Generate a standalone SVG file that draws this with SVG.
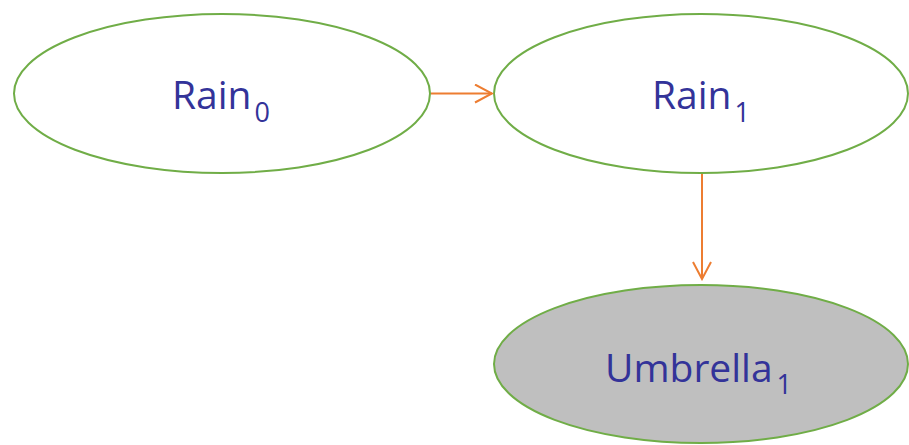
<svg xmlns="http://www.w3.org/2000/svg" width="909" height="445" viewBox="0 0 909 445">
<style>
.node{stroke:#70AD47;stroke-width:2;}
.lbl{font-family:"Open Sans","Liberation Sans",sans-serif;font-size:39px;fill:#333399;}
.sub{font-size:27px;}
.edge{stroke:#ED7D31;stroke-width:2;fill:none;}
</style>
<defs>
<marker id="arr" markerWidth="20" markerHeight="20" refX="18" refY="10" orient="auto" markerUnits="userSpaceOnUse">
<path d="M1,1 L18,10 L1,19" fill="none" stroke="#ED7D31" stroke-width="2"/>
</marker>
</defs>
<g id="rain0">
<ellipse class="node" cx="222" cy="93.5" rx="208" ry="79.5" fill="#FFFFFF"/>
<text class="lbl" x="172" y="109">Rain<tspan class="sub" dx="3" dy="13">0</tspan></text>
</g>
<g id="rain1">
<ellipse class="node" cx="701" cy="93.5" rx="207" ry="79.5" fill="#FFFFFF"/>
<text class="lbl" x="652" y="109">Rain<tspan class="sub" dx="3" dy="13">1</tspan></text>
</g>
<g id="umbrella1">
<ellipse class="node" cx="701" cy="364" rx="207" ry="79" fill="#BFBFBF"/>
<text class="lbl" x="605" y="382">Umbrella<tspan class="sub" dx="4" dy="12">1</tspan></text>
</g>
<g id="connectors">
<line class="edge" x1="431" y1="93.5" x2="492" y2="93.5" marker-end="url(#arr)"/>
<line class="edge" x1="702" y1="174" x2="702" y2="279" marker-end="url(#arr)"/>
</g>
</svg>
